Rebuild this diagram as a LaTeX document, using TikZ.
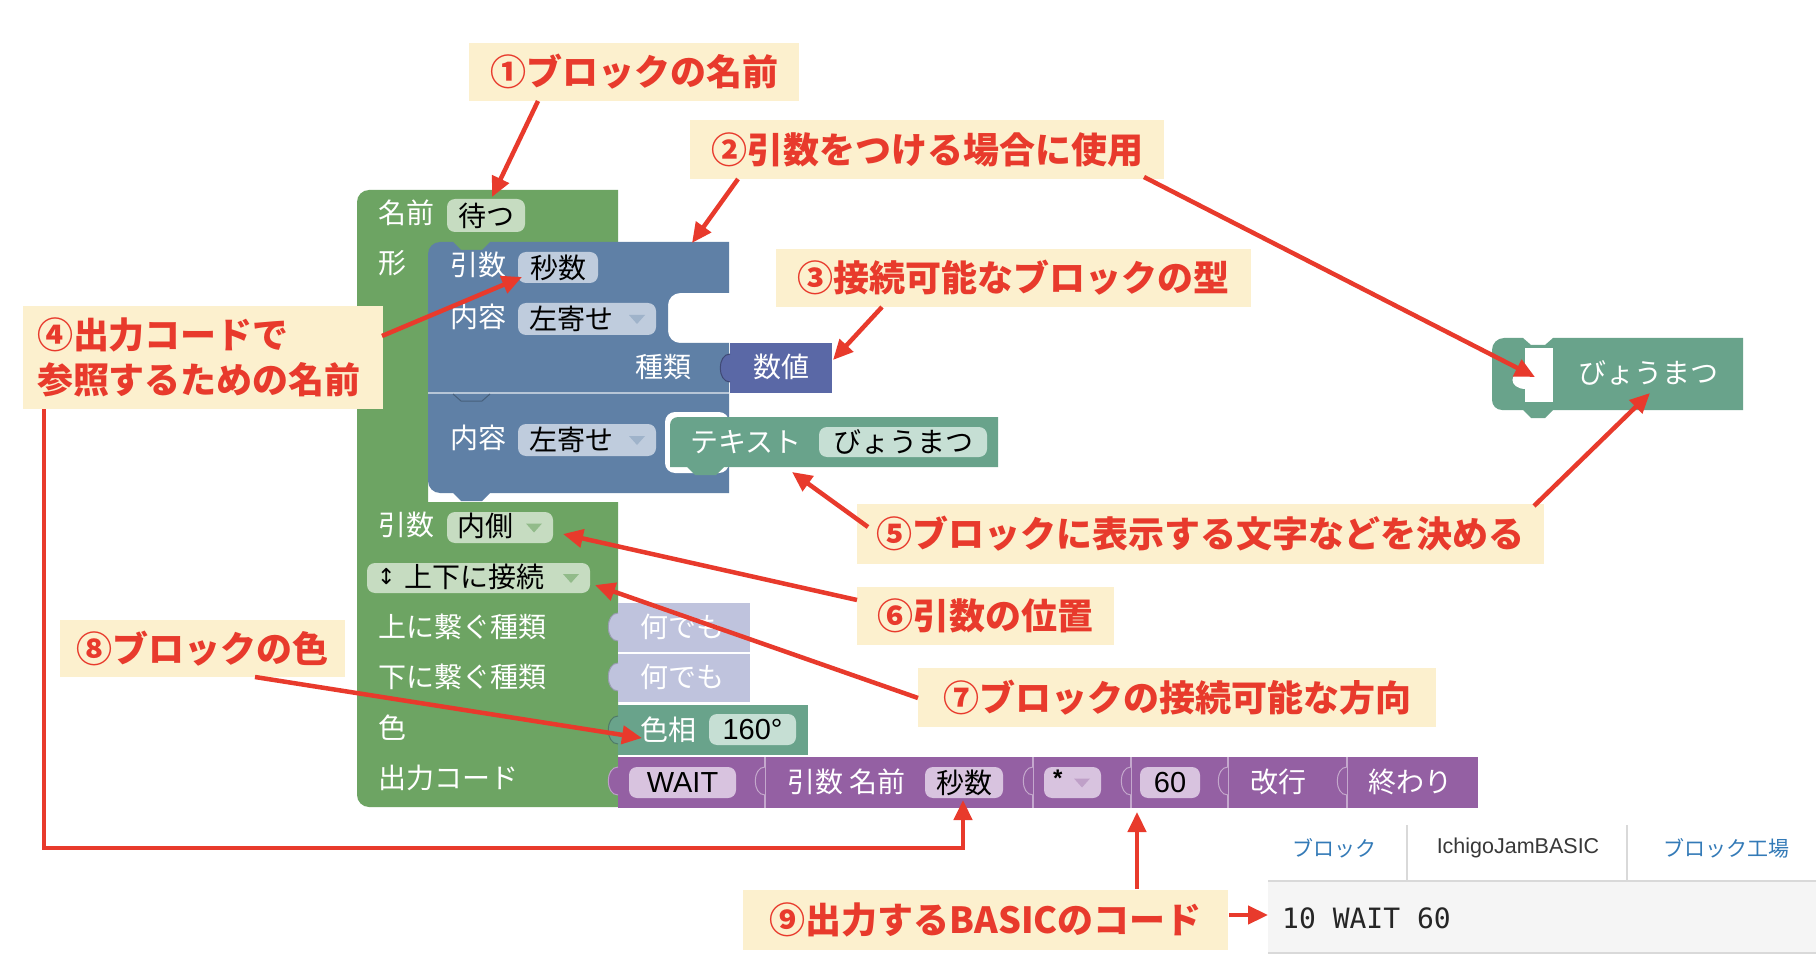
\documentclass[tikz,border=0pt]{standalone}
\usepackage{fontspec}
\usetikzlibrary{arrows.meta}
\newfontfamily\jp{Noto Sans CJK JP}
\newfontfamily\lat{Liberation Sans}
\newfontfamily\mono{DejaVu Sans Mono}
\newfontfamily\dvs{DejaVu Sans}
\definecolor{gB}{HTML}{6DA463}
\definecolor{gF}{HTML}{C6DCC1}
\definecolor{bB}{HTML}{5F80A6}
\definecolor{bF}{HTML}{BFCCDD}
\definecolor{nB}{HTML}{5A68A6}
\definecolor{tB}{HTML}{69A38B}
\definecolor{tF}{HTML}{C6DFD4}
\definecolor{pB}{HTML}{9460A3}
\definecolor{pF}{HTML}{D8C3DF}
\definecolor{lB}{HTML}{BFC3DD}
\definecolor{annF}{HTML}{FCF0CE}
\definecolor{annT}{HTML}{E83A2C}
\definecolor{linkC}{HTML}{337AB7}
\newcommand\ptab[4]{\filldraw[fill=#3,draw=#4,line width=1pt] (#1,#2) .. controls (#1-13,#2) and (#1-13,#2+28) .. (#1,#2+28);}
\newcommand\ddtri[3]{\fill[#3] (#1-27,#2-4) -- (#1-11,#2-4) -- (#1-19,#2+5) -- cycle;}
\begin{document}
\begin{tikzpicture}[x=1pt,y=-1pt,
  blk/.style={text=white, font=\jp\fontsize{28pt}{30pt}\selectfont, inner sep=0pt, anchor=west},
  ftx/.style={text=black, font=\jp\fontsize{28pt}{30pt}\selectfont, inner sep=0pt},
  fld/.style={fill=#1, rounded corners=8pt, inner sep=0pt},
  ann/.style={fill=annF, text=annT, font=\jp\bfseries\fontsize{36pt}{45pt}\selectfont, inner sep=0pt},
  arr/.style={draw=annT, line width=4.5pt, -{Triangle[length=20pt,width=18pt]}},
  tabt/.style={font=\jp\fontsize{21pt}{24pt}\selectfont, text=linkC, inner sep=0pt}]
\fill[white] (0,0) rectangle (1816,968);
\useasboundingbox (0,0) rectangle (1816,968);

% ---------- main green block ----------
\fill[gB] (357,795) -- (357,202) arc[start angle=180,end angle=270,radius=12] -- (618,190) -- (618,242) -- (428,242) -- (428,502) -- (618,502) -- (618,807) -- (369,807) arc[start angle=90,end angle=180,radius=12] -- cycle;
\fill[gB] (428,240) rectangle (500,254);

% ---------- blue blocks ----------
\fill[bB] (428,393) -- (428,254) arc[start angle=180,end angle=270,radius=12] -- (453,242) -- (461,250) -- (482,250) -- (490,242) -- (729,242) -- (729,293) -- (680,293) arc[start angle=270,end angle=180,radius=12] -- (668,331) arc[start angle=180,end angle=90,radius=12] -- (729,343) -- (729,393) -- cycle;
\fill[bB] (428,393) -- (729,393) -- (729,493) -- (490,493) -- (482,501) -- (461,501) -- (453,493) -- (440,493) arc[start angle=90,end angle=180,radius=12] -- cycle;
\draw[white!55!bB, line width=1.2pt] (428,393) -- (729,393);
\draw[bB!75!black, line width=1pt] (453,394) -- (461,401) -- (482,401) -- (490,394);

% 数値 block
\fill[nB] (730,343) rectangle (832,393);
\ptab{730}{354}{nB}{nB!70!black}
\node[blk, anchor=center] (num) at (781,367) {数値};

% text block in blue
\fill[white, rounded corners=10pt] (665,412) rectangle (729,473);
\fill[tB] (670,467) -- (670,425) arc[start angle=180,end angle=270,radius=8] -- (998,417) -- (998,467) -- (724,467) -- (716,475) -- (695,475) -- (687,467) -- cycle;
\node[blk] (txtL) at (690,442) {テキスト};
\node[fld=tF, ftx, minimum width=168pt, minimum height=30pt] (txtF) at (903,442) {びょうまつ};

% blue labels and fields
\node[blk] (argL) at (450,265) {引数};
\node[fld=bF, ftx, minimum width=80pt, minimum height=31pt] (argF) at (558,267.5) {秒数};
\node[blk] (cont1) at (450,317) {内容};
\node[fld=bF, minimum width=138pt, minimum height=32pt] (dd1) at (587,319) {};
\node[ftx, anchor=west] (dd1t) at (529,319) {左寄せ};
\ddtri{656}{319}{bB!60!white}
\node[blk, anchor=east] (kind) at (692,367) {種類};
\node[blk] (cont2) at (450,438) {内容};
\node[fld=bF, minimum width=138pt, minimum height=32pt] (dd2) at (587,440) {};
\node[ftx, anchor=west] (dd2t) at (529,440) {左寄せ};
\ddtri{656}{440}{bB!60!white}

% green labels and fields
\node[blk] (nameL) at (378,213) {名前};
\node[fld=gF, ftx, minimum width=78pt, minimum height=33pt] (nameF) at (486,215.5) {待つ};
\node[blk] (shapeL) at (378,263) {形};
\node[blk] (arg2L) at (378,525) {引数};
\node[fld=gF, minimum width=106pt, minimum height=31pt] (dd3) at (500,527.5) {};
\node[ftx, anchor=west] (dd3t) at (457,526) {内側};
\ddtri{553}{527.5}{gB!75!white}
\node[fld=gF, minimum width=223pt, minimum height=30pt] (dd4) at (478.5,578) {};
\node[text=black, font=\dvs\fontsize{22pt}{24pt}\selectfont, inner sep=0pt, anchor=west] (dd4a) at (377,577) {↕};
\node[ftx, anchor=west] (dd4t) at (404,577) {上下に接続};
\ddtri{590}{578}{gB!75!white}
\node[blk] (upL) at (378,627) {上に繋ぐ種類};
\node[blk] (downL) at (378,677) {下に繋ぐ種類};
\node[blk] (colL) at (378,728) {色};
\node[blk] (outL) at (378,778) {出力コード};

% lavender blocks
\fill[lB] (618,603) rectangle (750,702);
\draw[white, line width=1.5pt] (618,653) -- (750,653);
\ptab{618}{613}{lB}{lB!80!black}
\ptab{618}{663}{lB}{lB!80!black}
\node[blk] (any1) at (640,627) {何でも};
\node[blk] (any2) at (640,677) {何でも};

% hue block
\fill[tB] (618,705) rectangle (808,755);
\ptab{618}{716}{tB}{tB!75!black}
\node[blk] (hueL) at (640,730) {色相};
\node[fld=tF, text=black, font=\lat\fontsize{29pt}{30pt}\selectfont, minimum width=87pt, minimum height=31pt] (hueF) at (752.5,729.5) {160°};

% purple chain
\fill[pB] (618,757) rectangle (1478,808);
\foreach \bx in {765,1033,1131,1228,1347} {\draw[pB!55!white, line width=1.2pt] (\bx,757) -- (\bx,808);}
\ptab{618}{767}{pB}{pB!60!white}
\foreach \bx in {765,1033,1131,1228,1347} {\ptab{\bx}{767}{pB}{pB!55!white}}
\node[fld=pF, text=black, font=\lat\fontsize{29pt}{30pt}\selectfont, minimum width=107pt, minimum height=31pt] (waitF) at (682.5,782.5) {WAIT};
\node[blk] (argname) at (787,782) {引数 名前};
\node[fld=pF, ftx, minimum width=78pt, minimum height=31pt] (secF) at (964,782.5) {秒数};
\node[fld=pF, minimum width=57pt, minimum height=31pt] (mulF) at (1072.5,782.5) {};
\node[text=black, font=\lat\bfseries\fontsize{24pt}{26pt}\selectfont, inner sep=0pt, anchor=west] (mulT) at (1053,778) {*};
\ddtri{1101}{782.5}{pB!60!white}
\node[fld=pF, text=black, font=\lat\fontsize{29pt}{30pt}\selectfont, minimum width=60pt, minimum height=31pt] (sixtyF) at (1170,782.5) {60};
\node[blk] (nlL) at (1250,782) {改行};
\node[blk] (endL) at (1368,782) {終わり};

% right-side preview block
\fill[tB] (1492,400) -- (1492,350) arc[start angle=180,end angle=270,radius=12] -- (1523,338) -- (1531,345) -- (1545,345) -- (1553,338) -- (1743,338) -- (1743,410) -- (1553,410) -- (1545,418) -- (1531,418) -- (1523,410) -- (1502,410) arc[start angle=90,end angle=180,radius=10] -- cycle;
\fill[white] (1525,348) rectangle (1553,402);
\fill[white] (1526,371) .. controls (1508,371) and (1508,389) .. (1526,389) -- cycle;
\node[blk, anchor=center] (prevT) at (1648,373) {びょうまつ};

% tabs panel
\draw[black!15, line width=1.5pt] (1407,825) -- (1407,881);
\draw[black!15, line width=1.5pt] (1627,825) -- (1627,881);
\fill[black!4] (1268,881) rectangle (1816,953);
\draw[black!15, line width=1.5pt] (1268,881) -- (1816,881);
\draw[black!15, line width=1.5pt] (1268,953) -- (1816,953);
\node[tabt] (tab1) at (1334,848) {ブロック};
\node[tabt, text=black!78, font=\lat\fontsize{21.5pt}{24pt}\selectfont] (tab2) at (1518,848) {IchigoJamBASIC};
\node[tabt] (tab3) at (1726,848) {ブロック工場};
\node[font=\mono\fontsize{28pt}{30pt}\selectfont, text=black!85, inner sep=0pt, anchor=west] (code) at (1282,918) {10 WAIT 60};

% ---------- annotations ----------
\node[ann, minimum width=330pt, minimum height=58pt] (ann1) at (634,72) {①ブロックの名前};
\node[ann, minimum width=474pt, minimum height=59pt] (ann2) at (927,149.5) {②引数をつける場合に使用};
\node[ann, minimum width=475pt, minimum height=58pt] (ann3) at (1013.5,278) {③接続可能なブロックの型};
\node[ann, text width=332pt, inner xsep=14pt, minimum height=103pt, align=left] (ann4) at (203,357.5) {④出力コードで\\参照するための名前};
\node[ann, minimum width=687pt, minimum height=60pt] (ann5) at (1200.5,534) {⑤ブロックに表示する文字などを決める};
\node[ann, minimum width=257pt, minimum height=58pt] (ann6) at (985.5,616) {⑥引数の位置};
\node[ann, minimum width=518pt, minimum height=59pt] (ann7) at (1177,697.5) {⑦ブロックの接続可能な方向};
\node[ann, minimum width=285pt, minimum height=57pt] (ann8) at (202.5,648.5) {⑧ブロックの色};
\node[ann, minimum width=485pt, minimum height=60pt] (ann9) at (985.5,919.5) {⑨出力するBASICのコード};

% ---------- arrows ----------
\coordinate (s1) at (538,101);  \coordinate (e1) at (492,197);
\coordinate (s2) at (738,179);  \coordinate (e2) at (692,243);
\coordinate (s2b) at (1144,177); \coordinate (e2b) at (1535,377);
\coordinate (s3) at (882,307);  \coordinate (e3) at (833,360);
\coordinate (s4) at (382,336);  \coordinate (e4) at (522,277);
\coordinate (s4b) at (44,409);  \coordinate (c4a) at (44,848); \coordinate (c4b) at (963,848); \coordinate (e4b) at (963,800);
\coordinate (s5) at (868,527);  \coordinate (e5) at (792,472);
\coordinate (s5b) at (1534,506); \coordinate (e5b) at (1650,393);
\coordinate (s6) at (857,600);  \coordinate (e6) at (563,534);
\coordinate (s7) at (918,698);  \coordinate (e7) at (595,585);
\coordinate (s8) at (255,677);  \coordinate (e8) at (642,738);
\coordinate (s9) at (1137,889); \coordinate (e9) at (1137,812);
\coordinate (s9b) at (1229,915); \coordinate (e9b) at (1268,915);
\draw[arr] (s1) -- (e1);
\draw[arr] (s2) -- (e2);
\draw[arr] (s2b) -- (e2b);
\draw[arr] (s3) -- (e3);
\draw[arr] (s4) -- (e4);
\draw[arr] (s4b) -- (c4a) -- (c4b) -- (e4b);
\draw[arr] (s5) -- (e5);
\draw[arr] (s5b) -- (e5b);
\draw[arr] (s6) -- (e6);
\draw[arr] (s7) -- (e7);
\draw[arr] (s8) -- (e8);
\draw[arr] (s9) -- (e9);
\draw[arr] (s9b) -- (e9b);
\end{tikzpicture}
\end{document}
